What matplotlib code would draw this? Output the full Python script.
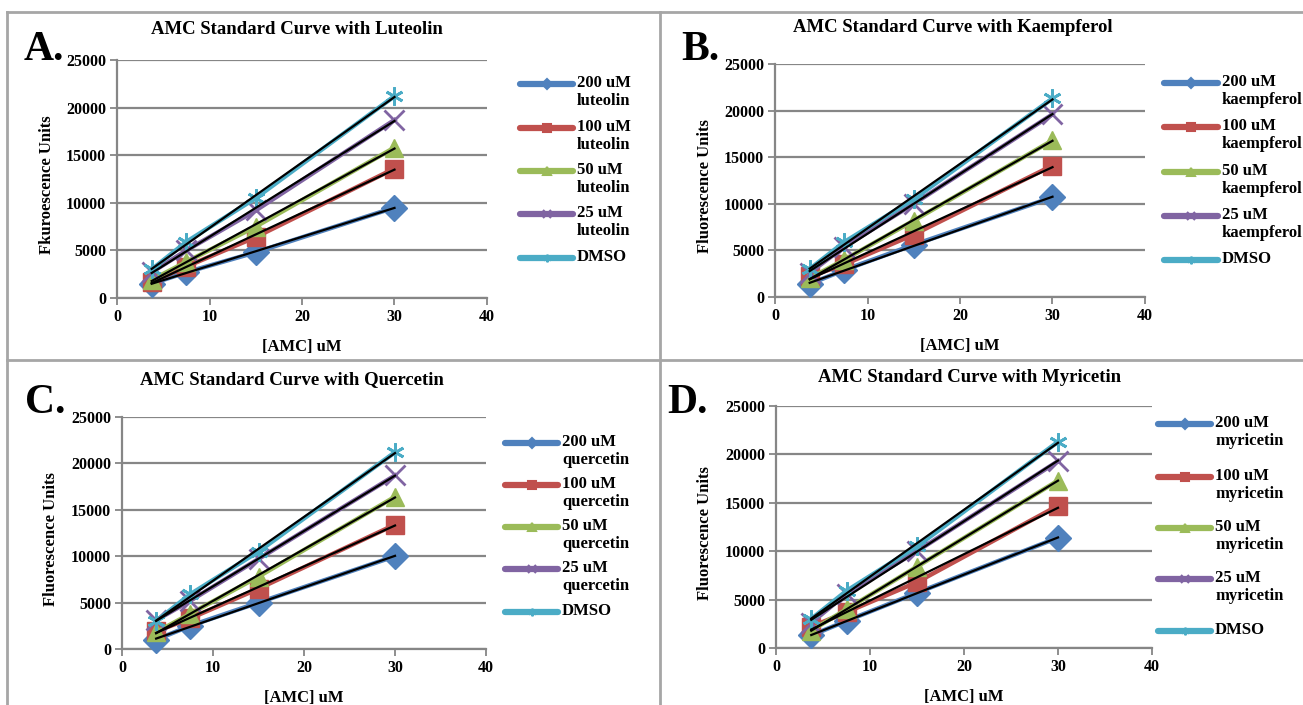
import numpy as np
import matplotlib
matplotlib.use("Agg")
import matplotlib.pyplot as plt
from matplotlib.lines import Line2D

plt.rcParams["font.family"] = ["Liberation Serif", "DejaVu Serif"]
plt.rcParams["font.weight"] = "bold"

W, H = 1303, 705

# ---------------------------------------------------------------------------
# data
# ---------------------------------------------------------------------------
amc = [3.75, 7.5, 15, 30]
series_names = ["200 uM", "100 uM", "50 uM", "25 uM", "DMSO"]
colors = ["#4F81BD", "#C0504D", "#9BBB59", "#8064A2", "#4BACC6"]
markers = ["D", "s", "^", "x", (6, 2, 0)]

luteolin = [
    [1500, 2700, 4800, 9500],
    [1700, 3300, 6400, 13600],
    [1900, 3800, 7500, 15800],
    [2700, 5000, 9200, 18700],
    [3000, 5900, 10500, 21200],
]
kaempferol = [
    [1400, 2900, 5600, 10700],
    [2200, 3500, 6700, 14100],
    [2000, 4000, 8200, 16800],
    [2600, 5400, 10000, 19600],
    [3000, 5900, 10500, 21300],
]
quercetin = [
    [1000, 2500, 5000, 10000],
    [1900, 3300, 6500, 13400],
    [1800, 3800, 7800, 16400],
    [3100, 5200, 9700, 18700],
    [3000, 5900, 10500, 21200],
]
myricetin = [
    [1300, 2800, 5700, 11400],
    [2200, 3700, 6800, 14700],
    [1800, 4000, 8400, 17300],
    [2600, 5600, 10000, 19300],
    [3000, 5900, 10500, 21300],
]

panels = [
    # axes px (x0, x40, y0, y25000); title / letter / legend positions in px
    dict(letter="A.", title="AMC Standard Curve with Luteolin", comp="luteolin",
         ylabel="Fkuroescence Units", data=luteolin,
         ax=(117, 487, 298, 60), tpos=(297, 30), lpos=(24, 60), ylx=47,
         leg=(520, 573, 577, [84, 128, 171, 214, 258])),
    dict(letter="B.", title="AMC Standard Curve with Kaempferol", comp="kaempferol",
         ylabel="Fluorescence Units", data=kaempferol,
         ax=(775, 1145, 297, 64), tpos=(953, 27), lpos=(681, 60), ylx=705,
         leg=(1164, 1218, 1222, [83, 127, 172, 216, 260])),
    dict(letter="C.", title="AMC Standard Curve with Quercetin", comp="quercetin",
         ylabel="Fluorescence Units", data=quercetin,
         ax=(122, 486, 649, 417), tpos=(292, 380), lpos=(25, 413), ylx=51,
         leg=(505, 558, 562, [443, 485, 527, 569, 612])),
    dict(letter="D.", title="AMC Standard Curve with Myricetin", comp="myricetin",
         ylabel="Fluorescence Units", data=myricetin,
         ax=(776, 1152, 648, 406), tpos=(970, 378), lpos=(667, 413), ylx=705,
         leg=(1158, 1211, 1215, [424, 477, 528, 579, 631])),
]

fig = plt.figure(figsize=(W / 100, H / 100), dpi=100)


def fx(px):
    return px / W


def fy(py):
    return 1 - py / H


GRID = "#868686"

for p in panels:
    x0, x1, y0, y1 = p["ax"]
    ax = fig.add_axes([fx(x0), fy(y0), fx(x1 - x0), (y0 - y1) / H])
    ax.set_xlim(0, 40)
    ax.set_ylim(0, 25000)
    ax.set_xticks([0, 10, 20, 30, 40])
    ax.set_yticks(range(0, 25001, 5000))
    ax.yaxis.grid(True, color=GRID, lw=1.6)
    ax.set_axisbelow(True)
    for s in ["top", "right"]:
        ax.spines[s].set_visible(False)
    for s in ["left", "bottom"]:
        ax.spines[s].set_color(GRID)
        ax.spines[s].set_linewidth(1.6)
    ax.tick_params(direction="out", length=5, width=1.3, color=GRID,
                   labelsize=11.5, pad=3)
    for lab in ax.get_xticklabels() + ax.get_yticklabels():
        lab.set_fontweight("bold")

    for vals, c, m in zip(p["data"], colors, markers):
        ax.plot(amc, vals, color=c, lw=3.2, marker=m, ms=13 if m != "x" else 14,
                mew=2 if m in ("x", (6, 2, 0)) else 1, mec=c, clip_on=False,
                zorder=3)
    for vals in p["data"]:
        k, b = np.polyfit(amc, vals, 1)
        xs = np.array([amc[0], amc[-1]])
        ax.plot(xs, k * xs + b, color="black", lw=1.6, zorder=4)

    ax.set_xlabel("[AMC] uM", fontsize=12, fontweight="bold", labelpad=10)
    fig.text(fx(p["ylx"]), fy((y0 + y1) / 2 + 6), p["ylabel"], rotation=90,
             ha="center", va="center", fontsize=12, fontweight="bold")

    fig.text(fx(p["tpos"][0]), fy(p["tpos"][1]), p["title"], ha="center",
             va="center", fontsize=13.5, fontweight="bold")
    fig.text(fx(p["lpos"][0]), fy(p["lpos"][1]), p["letter"], ha="left",
             va="baseline", fontsize=30, fontweight="bold")

    hx0, hx1, tx, ys = p["leg"]
    for name, c, m, yy in zip(series_names, colors, markers, ys):
        fig.add_artist(Line2D([fx(hx0), fx(hx1)], [fy(yy), fy(yy)],
                              transform=fig.transFigure, color=c, lw=4.5,
                              solid_capstyle="round"))
        fig.add_artist(Line2D([fx((hx0 + hx1) / 2)], [fy(yy)],
                              transform=fig.transFigure, color=c, marker=m,
                              ms=5.5, mew=1.5, mec=c))
        label = name if name == "DMSO" else f"{name}\n{p['comp']}"
        fig.text(fx(tx), fy(yy - 9), label, ha="left", va="top",
                 fontsize=12, fontweight="bold", linespacing=1.2)

# panel borders
BORDER = "#a6a6a6"
for xs, ys in [
    ([7, 1303], [12, 12]),
    ([7, 1303], [360, 360]),
    ([7, 7], [12, 705]),
    ([660, 660], [12, 705]),
]:
    fig.add_artist(Line2D([fx(v) for v in xs], [fy(v) for v in ys],
                          transform=fig.transFigure, color=BORDER, lw=2))

fig.savefig("out.png", dpi=100)
